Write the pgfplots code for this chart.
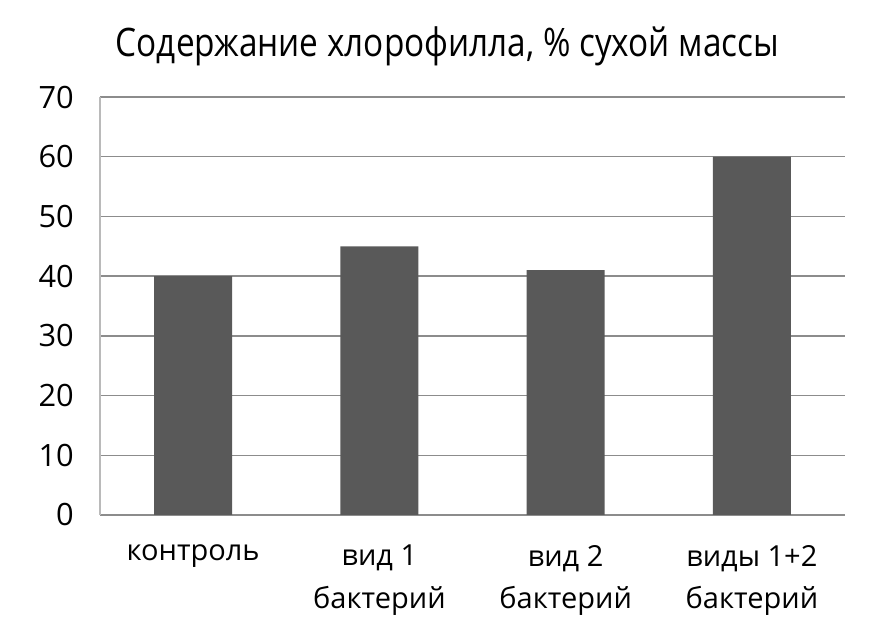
\documentclass[border=0pt]{standalone}
\usepackage{pgfplots}
\pgfplotsset{compat=1.18}
\usepackage{fontspec}
\setmainfont{Open Sans}
\definecolor{barc}{HTML}{595959}
\definecolor{gridc}{HTML}{8C8C8C}
\begin{document}
\begin{tikzpicture}
\useasboundingbox (-40pt,-45.2pt) rectangle (314.4pt,206pt);
\begin{axis}[
  at={(0,0)}, anchor=south west,
  scale only axis, width=298pt, height=167.2pt,
  xmin=-0.5, xmax=3.5, ymin=0, ymax=70,
  ytick={0,10,...,70},
  xtick={0,1,2,3},
  xticklabels={контроль, {вид 1\\бактерий}, {вид 2\\бактерий}, {виды 1+2\\бактерий}},
  xticklabel style={align=center, font=\fontsize{11.6}{17}\selectfont, yshift=-8.5pt},
  yticklabel style={font=\fontsize{12.3}{15}\selectfont, xshift=-7pt},
  /pgf/number format/assume math mode=true,
  major tick length=0pt,
  ymajorgrids, grid style={gridc, line width=0.6pt},
  axis x line*=bottom, axis y line*=left,
  x axis line style={gridc, line width=0.8pt, -},
  y axis line style={gridc!60, line width=0.6pt, -},
  ybar, bar width=31.2pt,
  title={\scalebox{0.85}[1]{Содержание хлорофилла, \% сухой массы}},
  title style={font=\fontsize{15.7}{18}\selectfont, yshift=3pt, xshift=-10pt},
]
\addplot[fill=barc, draw=none] coordinates {(0,40) (1,45) (2,41) (3,60)};
\end{axis}
\end{tikzpicture}
\end{document}
